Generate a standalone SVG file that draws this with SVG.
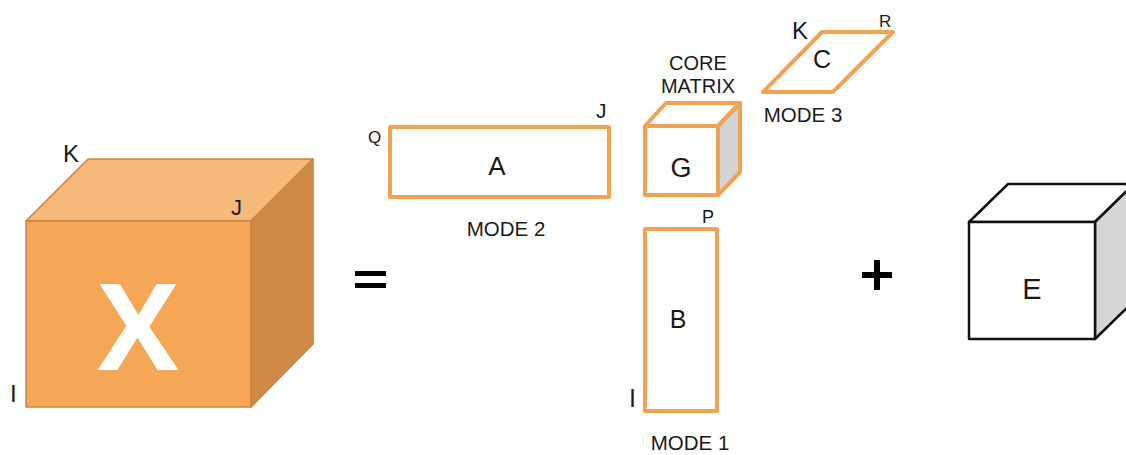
<svg xmlns="http://www.w3.org/2000/svg" width="1126" height="455" viewBox="0 0 1126 455">
  <style>
    .lbl { font-family: "Liberation Sans", Arial, sans-serif; fill: #1a1a1a; }
    .orange { fill: #ffffff; stroke: #F4A252; stroke-width: 4; stroke-linejoin: round; }
    .xcube { stroke: #C98540; stroke-width: 1.5; stroke-linejoin: round; }
    .ecube { stroke: #111111; stroke-width: 2.5; stroke-linejoin: round; }
  </style>
  <rect width="1126" height="455" fill="#ffffff"/>

  <g id="node-X">
    <polygon class="xcube" points="26,221 88,159 313,159 251,221" fill="#F6B97C"/>
    <polygon class="xcube" points="251,221 313,159 313,344 251,407" fill="#CF8B45"/>
    <rect class="xcube" x="26" y="221" width="225" height="186" fill="#F5A656"/>
    <text x="138" y="370" text-anchor="middle" font-family="'Open Sans', 'Liberation Sans', sans-serif" font-weight="bold" font-size="121" fill="#ffffff">X</text>
    <text class="lbl" x="63" y="162" font-size="24">K</text>
    <text class="lbl" x="231" y="215" font-size="22">J</text>
    <text class="lbl" x="10" y="402" font-size="24">I</text>
  </g>

  <g id="node-equals">
    <rect x="355" y="271" width="31" height="5" fill="#000"/>
    <rect x="355" y="283" width="31" height="5" fill="#000"/>
  </g>

  <g id="node-A">
    <rect class="orange" x="390" y="127" width="219" height="70"/>
    <text class="lbl" x="497" y="175" font-size="26" text-anchor="middle">A</text>
    <text class="lbl" x="368" y="143" font-size="17">Q</text>
    <text class="lbl" x="596" y="118" font-size="21">J</text>
    <text class="lbl" x="506" y="236" font-size="20.5" text-anchor="middle">MODE 2</text>
  </g>

  <g id="node-G">
    <text class="lbl" x="698" y="70" font-size="20" text-anchor="middle">CORE</text>
    <text class="lbl" x="698" y="93" font-size="20" text-anchor="middle">MATRIX</text>
    <polygon points="718,126 740,103 740,172 718,195" fill="#D4D4D4"/>
    <polygon class="orange" points="645,126 666,103 740,103 718,126" fill="#ffffff"/>
    <polygon points="718,126 740,103 740,172 718,195" fill="none" stroke="#F4A252" stroke-width="4" stroke-linejoin="round"/>
    <rect class="orange" x="645" y="126" width="73" height="69"/>
    <text class="lbl" x="681" y="177" font-size="27" text-anchor="middle">G</text>
  </g>

  <g id="node-C">
    <polygon class="orange" points="822,32 893,32 833,92 763,92"/>
    <text class="lbl" x="822" y="68" font-size="25" text-anchor="middle">C</text>
    <text class="lbl" x="792" y="39" font-size="24">K</text>
    <text class="lbl" x="879" y="27" font-size="17">R</text>
    <text class="lbl" x="803" y="122" font-size="20.5" text-anchor="middle">MODE 3</text>
  </g>

  <g id="node-B">
    <rect class="orange" x="645" y="229" width="72" height="182"/>
    <text class="lbl" x="678" y="328" font-size="25" text-anchor="middle">B</text>
    <text class="lbl" x="702" y="223" font-size="18">P</text>
    <text class="lbl" x="629" y="407" font-size="25">I</text>
    <text class="lbl" x="690" y="450" font-size="20.5" text-anchor="middle">MODE 1</text>
  </g>

  <g id="node-plus">
    <rect x="862" y="272" width="30" height="6" fill="#000"/>
    <rect x="874" y="260" width="6" height="30" fill="#000"/>
  </g>

  <g id="node-E">
    <polygon class="ecube" points="969,222 1008,184 1134,184 1095,222" fill="#ffffff"/>
    <polygon class="ecube" points="1095,222 1134,184 1134,301 1095,339" fill="#D6D6D6"/>
    <rect class="ecube" x="969" y="222" width="126" height="117" fill="#ffffff"/>
    <text class="lbl" x="1032" y="299" font-size="29" text-anchor="middle">E</text>
  </g>

  <g id="connectors"></g>
</svg>
